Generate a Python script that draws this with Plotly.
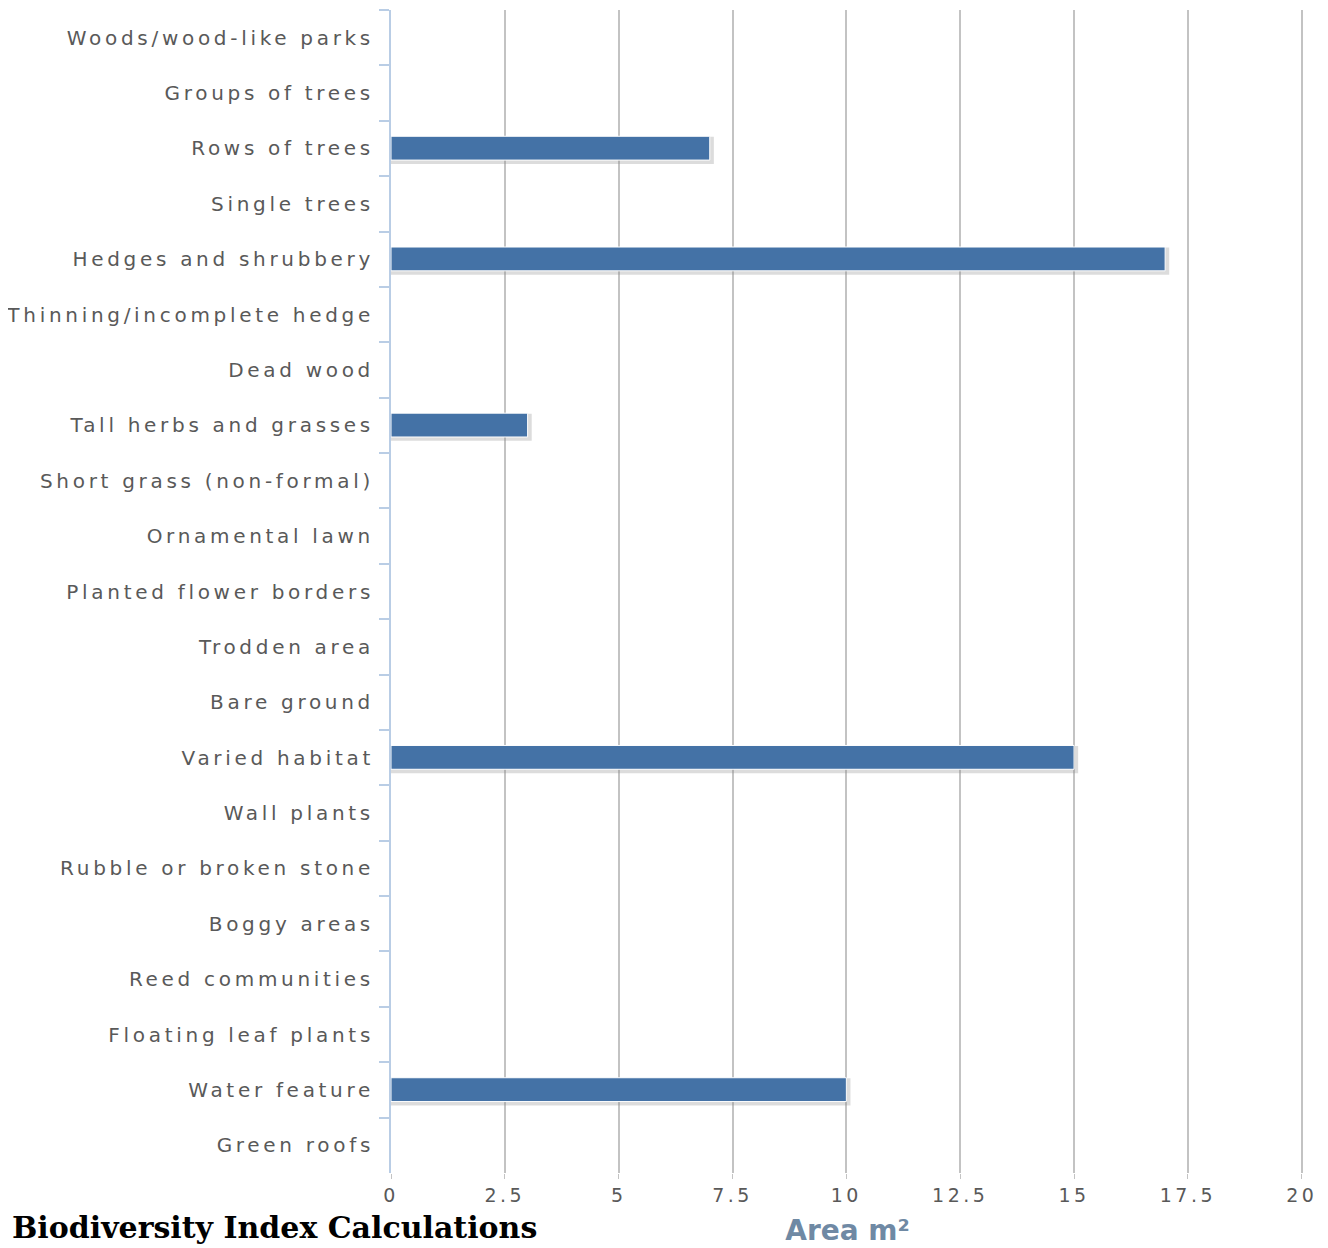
import plotly.graph_objects as go

categories = [
    "Woods/wood-like parks", "Groups of trees", "Rows of trees", "Single trees",
    "Hedges and shrubbery", "Thinning/incomplete hedge", "Dead wood",
    "Tall herbs and grasses", "Short grass (non-formal)", "Ornamental lawn",
    "Planted flower borders", "Trodden area", "Bare ground", "Varied habitat",
    "Wall plants", "Rubble or broken stone", "Boggy areas", "Reed communities",
    "Floating leaf plants", "Water feature", "Green roofs",
]
area_m2 = [0, 0, 7, 0, 17, 0, 0, 3, 0, 0, 0, 0, 0, 15, 0, 0, 0, 0, 0, 10, 0]
x_ticks = [0, 2.5, 5, 7.5, 10, 12.5, 15, 17.5, 20]
x_tick_labels = ["0", "2.5", "5", "7.5", "10", "12.5", "15", "17.5", "20"]

fig = go.Figure()
# soft shadow behind the bars
fig.add_trace(go.Bar(
    y=categories, x=[v + 0.09 if v else 0 for v in area_m2], orientation="h",
    marker=dict(color="rgba(140,140,140,0.30)", line=dict(width=0)),
    width=0.49, offset=-0.21, hoverinfo="skip", showlegend=False,
))
fig.add_trace(go.Bar(
    y=categories, x=area_m2, orientation="h",
    marker=dict(color="#4472a6", line=dict(color="#ffffff", width=1)),
    width=0.43, offset=-0.22, showlegend=False,
))

W, H = 1320, 1240
L, R, T, B = 383, 24, 2, 75

fig.update_layout(
    width=W, height=H,
    margin=dict(l=L, r=R, t=T, b=B, autoexpand=False),
    plot_bgcolor="white", paper_bgcolor="white",
    barmode="overlay",
    font=dict(family="DejaVu Sans", color="#595959"),
    xaxis=dict(
        range=[0, 20.05], tickvals=x_ticks, ticktext=x_tick_labels,
        showgrid=True, gridcolor="#c3c3c3", gridwidth=2,
        zeroline=False, showline=False,
        ticks="outside", ticklen=5, tickcolor="#c3c3c3", tickwidth=1,
        tickfont=dict(size=19, color="#595959"),
        title=dict(text="<b>Area m²</b>", font=dict(size=28, color="#6f89a4", family="DejaVu Sans"), standoff=15),
        automargin=False,
    ),
    yaxis=dict(
        categoryorder="array", categoryarray=categories, autorange="reversed",
        showline=True, linecolor="#b9cde5", linewidth=2,
        ticks="outside", tickson="boundaries", ticklen=10, tickcolor="#b9cde5", tickwidth=2,
        tickfont=dict(size=20, color="#595959"),
        showgrid=False, ticklabelstandoff=11, automargin=False,
    ),
    annotations=[dict(
        text="<b>Biodiversity Index Calculations</b>", xref="paper", yref="paper",
        x=-(L - 2) / (W - L - R), y=-(H - T - 1) / (H - T - B) + 1,
        xanchor="left", yanchor="bottom",
        showarrow=False, font=dict(family="DejaVu Serif", size=30, color="#000000"),
    )],
)

post = """
(function(){
  var gd = document.getElementById('{plot_id}');
  function sp(){
    gd.querySelectorAll('.ytick text').forEach(function(t){
      t.style.letterSpacing = '3.7px';
    });
    gd.querySelectorAll('.xtick text').forEach(function(t){
      t.style.letterSpacing = '3.5px';
    });
  }
  sp();
  gd.on('plotly_afterplot', sp);
  setTimeout(sp, 50);
})();
"""

fig.write_html("out.html", post_script=post)
